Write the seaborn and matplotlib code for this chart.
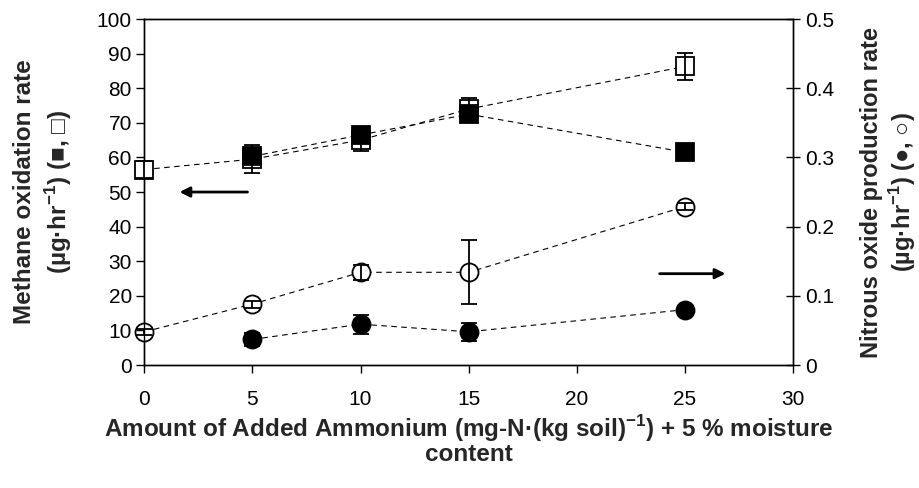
import numpy as np
import pandas as pd
import seaborn as sns
import matplotlib.pyplot as plt

# ammonium added (mg-N / kg soil)
x_open = [0, 5, 10, 15, 25]
x_fill = [5, 10, 15, 25]

# methane oxidation rate (left axis)
ch4_open = [56.5, 59.5, 65.0, 74.0, 86.3]
ch4_open_err = [2.5, 4.0, 3.0, 3.2, 3.8]
ch4_fill = [60.3, 66.5, 72.5, 61.5]
ch4_fill_err = [1.0, 1.2, 1.2, 0.8]

# nitrous oxide production rate (right axis)
n2o_open = [0.048, 0.088, 0.134, 0.134, 0.229]
n2o_open_err = [0.004, 0.005, 0.011, 0.046, 0.005]
n2o_fill = [0.037, 0.059, 0.048, 0.080]
n2o_fill_err = [0.010, 0.014, 0.013, 0.006]

sns.set_style("ticks")
plt.rcParams['font.family'] = ['Liberation Sans', 'DejaVu Sans']
plt.rcParams['mathtext.fontset'] = 'custom'
plt.rcParams['mathtext.rm'] = 'Liberation Sans'
plt.rcParams['mathtext.bf'] = 'Liberation Sans:bold'

fig, ax = plt.subplots(figsize=(9.19, 4.88), dpi=100)
fig.subplots_adjust(left=0.157, right=0.863, top=0.961, bottom=0.252)
ax2 = ax.twinx()

dash = (0, (5, 4))
ms = 13


def serie(axis, xs, ys, err, marker, fill, z):
    df = pd.DataFrame({'x': xs, 'y': ys})
    sns.lineplot(data=df, x='x', y='y', ax=axis, color='black', lw=0.8,
                 linestyle=dash, marker=marker, markersize=ms,
                 markerfacecolor=fill, markeredgecolor='black',
                 markeredgewidth=1.3, zorder=z, clip_on=False)
    axis.errorbar(xs, ys, yerr=err, fmt='none', ecolor='black',
                  elinewidth=1.3, capsize=6, capthick=1.3, zorder=z + 1,
                  clip_on=False)


serie(ax, x_open, ch4_open, ch4_open_err, 's', 'white', 3)
serie(ax, x_fill, ch4_fill, ch4_fill_err, 's', 'black', 5)
serie(ax2, x_open, n2o_open, n2o_open_err, 'o', 'white', 3)
serie(ax2, x_fill, n2o_fill, n2o_fill_err, 'o', 'black', 5)

ax.set_xlim(0, 30)
ax.set_ylim(0, 100)
ax2.set_ylim(0, 0.5)
ax.set_xticks(range(0, 31, 5))
ax.set_yticks(range(0, 101, 10))
ax2.set_yticks(np.arange(0, 0.51, 0.1))
ax2.set_yticklabels(['0', '0.1', '0.2', '0.3', '0.4', '0.5'])

for a in (ax, ax2):
    for s in a.spines.values():
        s.set_visible(True)
        s.set_linewidth(1.0)
        s.set_color('black')
ax.tick_params(axis='both', labelsize=15, direction='out', length=6,
               width=1.0, colors='black')
ax.tick_params(axis='x', pad=12)
ax.tick_params(axis='y', pad=3)
ax2.tick_params(axis='y', labelsize=15, direction='inout', length=10,
                width=1.0, colors='black', pad=4)

ax.set_xlabel('Amount of Added Ammonium (mg-N·(kg soil)$^{\\mathbf{-1}}$) + 5 % moisture\ncontent',
              fontsize=17.5, fontweight='bold', linespacing=0.95, labelpad=3)
ax.set_ylabel('Methane oxidation rate\n(µg·hr$^{\\mathbf{-1}}$) (■, □)',
              fontsize=17.5, fontweight='bold', linespacing=1.3, labelpad=16)
ax2.set_ylabel('Nitrous oxide production rate\n(µg·hr$^{\\mathbf{-1}}$) (●, ○)',
               fontsize=17, fontweight='bold', linespacing=1.2, labelpad=18)

# arrows pointing to the relevant axis
ax.annotate('', xy=(1.5, 50), xytext=(4.9, 50),
            arrowprops=dict(arrowstyle='-|>', color='black', lw=2,
                            mutation_scale=15))
ax2.annotate('', xy=(27.0, 0.132), xytext=(23.7, 0.132),
             arrowprops=dict(arrowstyle='-|>', color='black', lw=2,
                             mutation_scale=15))

ax.set_zorder(ax2.get_zorder() + 1)
ax.patch.set_visible(False)

plt.savefig('out.png', dpi=100)
